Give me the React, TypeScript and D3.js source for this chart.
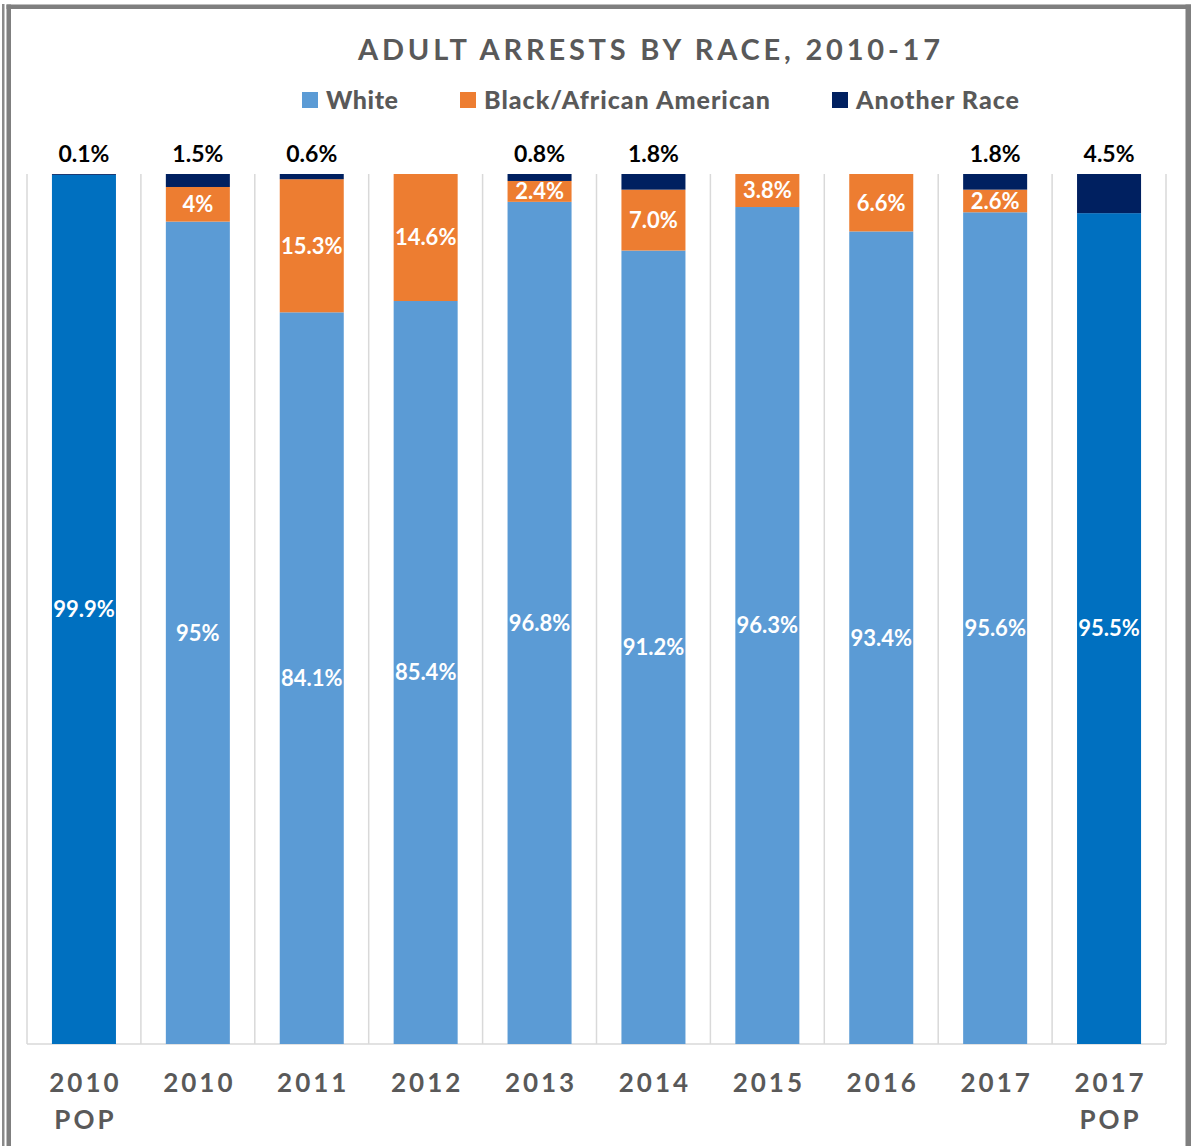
import React from "react";
import * as d3 from "d3";

const categories = ["2010 POP", "2010", "2011", "2012", "2013", "2014", "2015", "2016", "2017", "2017 POP"];
const isPop = [true, false, false, false, false, false, false, false, false, true];
const whiteValues = [99.9, 95, 84.1, 85.4, 96.8, 91.2, 96.3, 93.4, 95.6, 95.5];
const blackValues = [0, 4, 15.3, 14.6, 2.4, 7.0, 3.8, 6.6, 2.6, 0];
const otherValues = [0.1, 1.5, 0.6, 0, 0.8, 1.8, 0, 0, 1.8, 4.5];
const whiteLabels = ["99.9%", "95%", "84.1%", "85.4%", "96.8%", "91.2%", "96.3%", "93.4%", "95.6%", "95.5%"];
const blackLabels = ["", "4%", "15.3%", "14.6%", "2.4%", "7.0%", "3.8%", "6.6%", "2.6%", ""];
const otherLabels = ["0.1%", "1.5%", "0.6%", "", "0.8%", "1.8%", "", "", "1.8%", "4.5%"];
const seriesNames = ["White", "Black/African American", "Another Race"];
const titleText = "ADULT ARRESTS BY RACE, 2010-17";

const W = 1191;
const H = 1146;
const FONT = "Lato, 'Open Sans', sans-serif";
const GRAY = "#595959";
const C_WHITE = "#5B9BD5";
const C_WHITE_POP = "#0070C0";
const C_BLACK = "#ED7D31";
const C_OTHER = "#002060";

export default function App() {
  const left = 27, right = 1166, top = 174, bottom = 1044;
  const x = d3.scaleBand<string>().domain(categories).range([left, right]).paddingInner(0.438).paddingOuter(0.219);
  const y = d3.scaleLinear().domain([0, 1]).range([bottom, top]);
  const rows = categories.map((c, i) => ({ cat: c, white: whiteValues[i], black: blackValues[i], other: otherValues[i] }));
  const keys = ["white", "black", "other"];
  const stack = d3.stack<any>().keys(keys).offset(d3.stackOffsetExpand);
  const series = stack(rows);
  const step = x.step();
  const bw = x.bandwidth();
  const gridXs = d3.range(categories.length + 1).map((i) => left + i * step);

  const labelFor = (k: string, i: number) =>
    k === "white" ? whiteLabels[i] : k === "black" ? blackLabels[i] : otherLabels[i];
  const colorFor = (k: string, i: number) =>
    k === "white" ? (isPop[i] ? C_WHITE_POP : C_WHITE) : k === "black" ? C_BLACK : C_OTHER;

  const legendItems = [
    { name: seriesNames[0], color: C_WHITE, x: 302, len: 72 },
    { name: seriesNames[1], color: C_BLACK, x: 460, len: 286 },
    { name: seriesNames[2], color: C_OTHER, x: 832, len: 163 },
  ];

  return (
    <svg width={W} height={H} style={{ position: "absolute", left: 0, top: 0, background: "#fff" }} fontFamily={FONT}>
      <rect x={0} y={0} width={W} height={H} fill="#fff" />
      {/* frame */}
      <rect x={2} y={4} width={2.5} height={H - 4} fill="#8a8a8a" />
      <rect x={6.5} y={4.5} width={4.5} height={H - 4.5} fill="#7f7f7f" />
      <rect x={6.5} y={4.5} width={W - 6.5} height={4.5} fill="#7f7f7f" />
      <rect x={1185.5} y={4.5} width={5.5} height={H - 4.5} fill="#7f7f7f" />

      {/* title */}
      <text x={649} y={60} textAnchor="middle" fontSize={29} fontWeight={700} fill={GRAY}
        textLength={582} lengthAdjust="spacing">{titleText}</text>

      {/* legend */}
      {legendItems.map((d) => (
        <g key={d.name}>
          <rect x={d.x} y={92} width={16} height={16} fill={d.color} />
          <text x={d.x + 24} y={108.5} fontSize={25} fontWeight={900} fill={GRAY}
            textLength={d.len} lengthAdjust="spacing">{d.name}</text>
        </g>
      ))}

      {/* gridlines */}
      {gridXs.map((gx, i) => (
        <line key={i} x1={gx} x2={gx} y1={top} y2={bottom} stroke="#D9D9D9" strokeWidth={1.5} />
      ))}
      <line x1={left} x2={right} y1={bottom} y2={bottom} stroke="#D9D9D9" strokeWidth={1.5} />

      {/* bars */}
      {series.map((s) => (
        <g key={s.key}>
          {s.map((d, i) => {
            const y0 = y(d[0]);
            const y1 = y(d[1]);
            if (y0 - y1 <= 0) return null;
            return (
              <rect key={i} x={x(categories[i])} y={y1} width={bw} height={y0 - y1} fill={colorFor(s.key, i)} />
            );
          })}
        </g>
      ))}

      {/* labels */}
      {series.map((s) => (
        <g key={"l" + s.key}>
          {s.map((d, i) => {
            const lab = labelFor(s.key, i);
            if (!lab) return null;
            const cx = (x(categories[i]) as number) + bw / 2;
            if (s.key === "other") {
              return (
                <text key={i} x={cx} y={161.5} textAnchor="middle" fontSize={23} fontWeight={700} fill="#000">{lab}</text>
              );
            }
            const cy = (y(d[0]) + y(d[1])) / 2;
            return (
              <text key={i} x={cx} y={cy} dy="0.36em" textAnchor="middle" fontSize={22} fontWeight={700} fill="#fff">{lab}</text>
            );
          })}
        </g>
      ))}

      {/* category axis */}
      {categories.map((c) => {
        const cx = (x(c) as number) + bw / 2;
        const parts = c.split(" ");
        return (
          <g key={"a" + c}>
            {parts.map((p, j) => (
              <text key={j} x={cx + 1.5} y={1092 + j * 37} textAnchor="middle" fontSize={26} fontWeight={700}
                fill={GRAY} letterSpacing={3}>{p}</text>
            ))}
          </g>
        );
      })}
    </svg>
  );
}
